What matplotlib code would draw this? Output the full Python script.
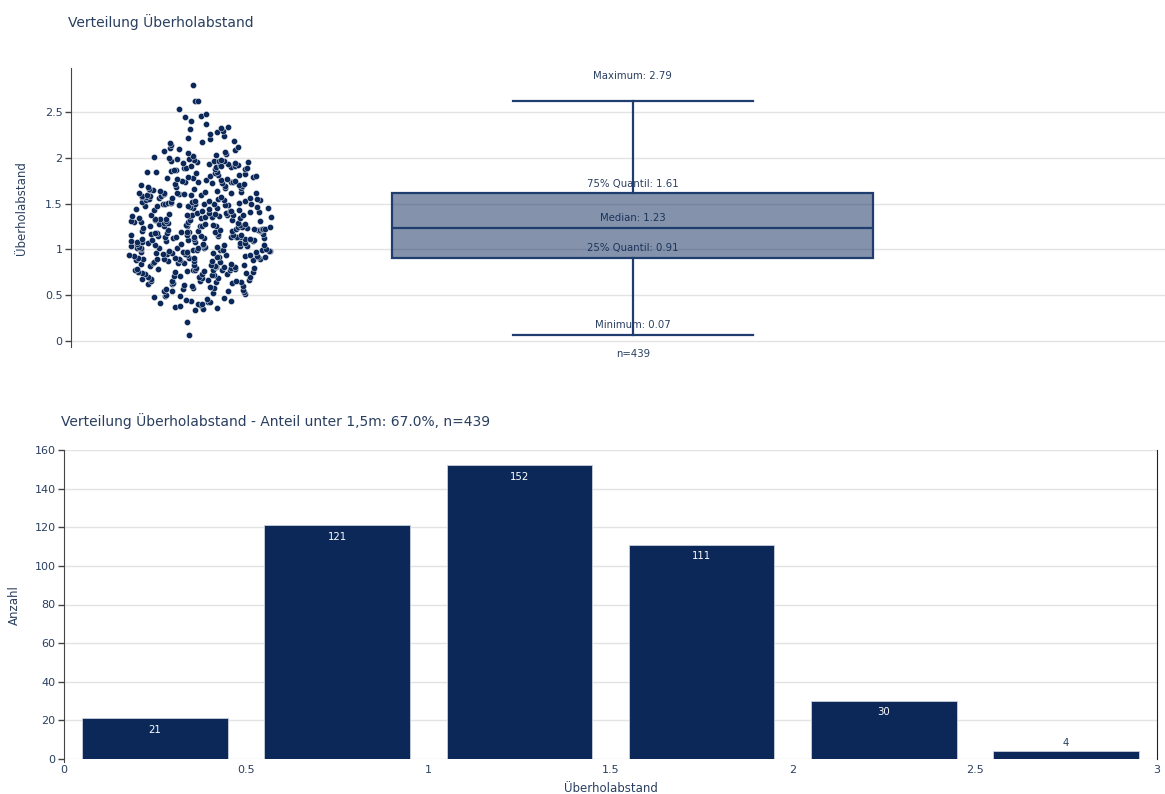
import numpy as np
import matplotlib
matplotlib.use("Agg")
import matplotlib.pyplot as plt

# Überholabstand (m), grouped by histogram bin
dist_000_050 = [0.07, 0.21, 0.34, 0.35, 0.36, 0.37, 0.38, 0.39, 0.40, 0.40, 0.41,
                0.42, 0.43, 0.44, 0.44, 0.45, 0.46, 0.47, 0.48, 0.49, 0.49]
dist_050_091 = [0.50, 0.51, 0.52, 0.53, 0.54, 0.55, 0.55, 0.56, 0.57, 0.57, 0.58, 0.58,
                0.59, 0.60, 0.60, 0.61, 0.62, 0.62, 0.63, 0.63, 0.64, 0.64, 0.65, 0.65,
                0.66, 0.66, 0.67, 0.67, 0.68, 0.68, 0.69, 0.69, 0.70, 0.70, 0.70, 0.71,
                0.71, 0.72, 0.72, 0.73, 0.73, 0.73, 0.74, 0.74, 0.75, 0.75, 0.75, 0.76,
                0.76, 0.77, 0.77, 0.77, 0.78, 0.78, 0.78, 0.79, 0.79, 0.79, 0.80, 0.80,
                0.80, 0.81, 0.81, 0.81, 0.82, 0.82, 0.82, 0.83, 0.83, 0.83, 0.84, 0.84,
                0.85, 0.85, 0.85, 0.86, 0.86, 0.87, 0.87, 0.87, 0.88, 0.88, 0.88, 0.89,
                0.89, 0.89, 0.90, 0.90]
dist_091_100 = [0.91, 0.91, 0.91, 0.91, 0.92, 0.92, 0.92, 0.92, 0.93, 0.93, 0.93, 0.94,
                0.94, 0.94, 0.94, 0.95, 0.95, 0.95, 0.96, 0.96, 0.96, 0.97, 0.97, 0.97,
                0.97, 0.98, 0.98, 0.98, 0.99, 0.99, 0.99, 0.99, 0.99]
dist_100_123 = [1.00, 1.00, 1.01, 1.01, 1.01, 1.02, 1.02, 1.02, 1.03, 1.03, 1.03, 1.04,
                1.04, 1.04, 1.05, 1.05, 1.05, 1.06, 1.06, 1.06, 1.07, 1.07, 1.07, 1.08,
                1.08, 1.08, 1.09, 1.09, 1.09, 1.10, 1.10, 1.10, 1.11, 1.11, 1.11, 1.12,
                1.12, 1.12, 1.13, 1.13, 1.13, 1.14, 1.14, 1.14, 1.15, 1.15, 1.15, 1.16,
                1.16, 1.16, 1.17, 1.17, 1.17, 1.18, 1.18, 1.18, 1.19, 1.19, 1.19, 1.20,
                1.20, 1.20, 1.20, 1.21, 1.21, 1.21, 1.21, 1.22, 1.22, 1.22, 1.22, 1.22,
                1.11, 1.13, 1.16, 1.19, 1.05]
dist_123_150 = [1.23, 1.23, 1.24, 1.24, 1.24, 1.25, 1.25, 1.25, 1.26, 1.26, 1.26, 1.27,
                1.27, 1.27, 1.28, 1.28, 1.28, 1.29, 1.29, 1.29, 1.30, 1.30, 1.30, 1.31,
                1.31, 1.31, 1.32, 1.32, 1.32, 1.33, 1.33, 1.33, 1.34, 1.34, 1.34, 1.35,
                1.35, 1.35, 1.36, 1.36, 1.36, 1.37, 1.37, 1.37, 1.38, 1.38, 1.38, 1.39,
                1.39, 1.40, 1.40, 1.40, 1.41, 1.41, 1.42, 1.42, 1.42, 1.43, 1.43, 1.44,
                1.44, 1.45, 1.45, 1.45, 1.46, 1.46, 1.47, 1.47, 1.47, 1.48, 1.48, 1.48,
                1.49, 1.49, 1.49]
dist_150_161 = [1.50, 1.50, 1.50, 1.51, 1.51, 1.51, 1.52, 1.52, 1.52, 1.53, 1.53, 1.53,
                1.54, 1.54, 1.54, 1.55, 1.55, 1.55, 1.56, 1.56, 1.56, 1.57, 1.57, 1.57,
                1.58, 1.58, 1.58, 1.59, 1.59, 1.59, 1.60, 1.60, 1.60, 1.61, 1.61]
dist_161_200 = [1.61, 1.62, 1.62, 1.63, 1.63, 1.64, 1.64, 1.65, 1.65, 1.66, 1.66, 1.67,
                1.67, 1.68, 1.68, 1.69, 1.69, 1.70, 1.70, 1.71, 1.71, 1.72, 1.72, 1.73,
                1.73, 1.74, 1.74, 1.75, 1.75, 1.76, 1.76, 1.77, 1.77, 1.78, 1.78, 1.79,
                1.79, 1.80, 1.80, 1.81, 1.81, 1.82, 1.83, 1.83, 1.84, 1.85, 1.85, 1.86,
                1.87, 1.87, 1.88, 1.88, 1.89, 1.89, 1.90, 1.90, 1.91, 1.91, 1.92, 1.92,
                1.93, 1.93, 1.94, 1.94, 1.95, 1.95, 1.96, 1.96, 1.97, 1.97, 1.98, 1.98,
                1.99, 1.99, 1.91, 1.89]
dist_200_250 = [2.00, 2.01, 2.02, 2.03, 2.04, 2.05, 2.06, 2.07, 2.09, 2.10, 2.11, 2.12,
                2.14, 2.16, 2.17, 2.18, 2.20, 2.22, 2.24, 2.26, 2.28, 2.29, 2.31, 2.32,
                2.34, 2.37, 2.40, 2.45, 2.46, 2.48]
dist_250_300 = [2.53, 2.62, 2.62, 2.79]

# Histogram
bin_edges = [0.0, 0.5, 1.0, 1.5, 2.0, 2.5, 3.0]
bin_counts = [21, 121, 152, 111, 30, 4]

# Box statistics as annotated
stat_names = ["Maximum", "75% Quantil", "Median", "25% Quantil", "Minimum"]
stat_values = [2.79, 1.61, 1.23, 0.91, 0.07]
n_total = 439
share_below_15 = 67.0

distances = np.array(dist_000_050 + dist_050_091 + dist_091_100 + dist_100_123 +
                     dist_123_150 + dist_150_161 + dist_161_200 + dist_200_250 +
                     dist_250_300)

NAVY = "#0b2858"
BOX_EDGE = "#1f3d6e"
TXT = "#2a3f5f"
GRID = "#e3e3e3"
plt.rcParams["font.family"] = ["DejaVu Sans"]

W, H = 1165, 794
fig = plt.figure(figsize=(W / 100, H / 100), dpi=100)


def frac_box(l, t, r, b):
    return [l / W, 1 - b / H, (r - l) / W, (b - t) / H]


# ---------------- top panel: strip + box ----------------
ax1 = fig.add_axes(frac_box(71, 68, 1165, 347))
ax1.set_xlim(-1.168, 1.106)
ax1.set_ylim(-0.066, 2.98)

stats = dict(zip(stat_names, stat_values))
q1, med, q3 = stats["25% Quantil"], stats["Median"], stats["75% Quantil"]
iqr = q3 - q1
whis_hi = distances[distances <= q3 + 1.5 * iqr].max()
whis_lo = distances[distances >= q1 - 1.5 * iqr].min()

# statistic labels sit underneath the translucent box
for name, val in zip(stat_names, stat_values):
    ax1.annotate(f"{name}: {val:.2f}", (0, val), xytext=(0, 3.5),
                 textcoords="offset points", ha="center", va="bottom",
                 fontsize=7.3, color=TXT, zorder=2)
ax1.annotate(f"n={n_total}", (0, stats["Minimum"]), xytext=(0, -10.5),
             textcoords="offset points", ha="center", va="top",
             fontsize=7.3, color=TXT, zorder=2)

ax1.bxp([dict(med=med, q1=q1, q3=q3, whislo=whis_lo, whishi=whis_hi, fliers=[])],
        positions=[0], widths=1.0, capwidths=0.5, showfliers=False,
        patch_artist=True, manage_ticks=False,
        boxprops=dict(facecolor=(0.043, 0.157, 0.345, 0.5), edgecolor=BOX_EDGE,
                      linewidth=1.6),
        medianprops=dict(color=BOX_EDGE, linewidth=1.6),
        whiskerprops=dict(color=BOX_EDGE, linewidth=1.6),
        capprops=dict(color=BOX_EDGE, linewidth=1.6), zorder=3)

# density-scaled jitter for the strip of individual points
dens = np.exp(-0.5 * ((distances[:, None] - distances[None, :]) / 0.22) ** 2).sum(axis=1)
dens = np.sqrt(dens / dens.max())
idx = np.arange(len(distances))
u = np.modf(np.abs(np.sin(idx * 12.9898 + 78.233) * 43758.5453))[0]
xs = -0.90 + (u - 0.5) * 2 * 0.152 * dens
ax1.scatter(xs, distances, s=20, color=NAVY, edgecolors="white", linewidths=0.3,
            zorder=4)

ax1.set_yticks([0, 0.5, 1, 1.5, 2, 2.5])
ax1.set_yticklabels(["0", "0.5", "1", "1.5", "2", "2.5"])
ax1.set_xticks([])
ax1.grid(axis="y", color=GRID, linewidth=1)
ax1.set_axisbelow(True)
for s in ["top", "right", "bottom"]:
    ax1.spines[s].set_visible(False)
ax1.spines["left"].set_color("#444444")
ax1.tick_params(axis="y", length=4, width=1, color="#444444", labelsize=8,
                labelcolor=TXT, pad=2)

# ---------------- bottom panel: histogram ----------------
ax2 = fig.add_axes(frac_box(64, 450, 1157, 759))
ax2.set_xlim(0, 3)
ax2.set_ylim(0, 160)
edges = np.array(bin_edges)
centers = (edges[:-1] + edges[1:]) / 2
width = (edges[1] - edges[0]) * 0.8
ax2.bar(centers, bin_counts, width=width, color=NAVY,
        edgecolor="#c9d0dc", linewidth=0.6, zorder=3)
for c, v in zip(centers, bin_counts):
    if v >= 15:
        ax2.annotate(str(v), (c, v), xytext=(0, -4.5), textcoords="offset points",
                     ha="center", va="top", fontsize=7.3, color="white", zorder=4)
    else:
        ax2.annotate(str(v), (c, v), xytext=(0, 2.5), textcoords="offset points",
                     ha="center", va="bottom", fontsize=7.3, color=TXT, zorder=4)

ax2.set_yticks(range(0, 161, 20))
ax2.set_xticks([0, 0.5, 1, 1.5, 2, 2.5, 3])
ax2.set_xticklabels(["0", "0.5", "1", "1.5", "2", "2.5", "3"])
ax2.grid(axis="y", color=GRID, linewidth=1)
ax2.set_axisbelow(True)
ax2.spines["top"].set_visible(False)
ax2.spines["bottom"].set_visible(False)
ax2.spines["left"].set_color("#444444")
ax2.spines["left"].set_bounds(-1.5, 160)
ax2.spines["right"].set_color("#222222")
ax2.tick_params(axis="y", length=4, width=1, color="#444444", labelsize=8,
                labelcolor=TXT, pad=2)
ax2.tick_params(axis="x", length=0, labelsize=8, labelcolor=TXT, pad=4)

# ---------------- titles and axis labels ----------------
fig.text(68 / W, 1 - 22 / H, "Verteilung Überholabstand", fontsize=10.0,
         color=TXT, ha="left", va="center")
fig.text(61 / W, 1 - 421 / H,
         f"Verteilung Überholabstand - Anteil unter 1,5m: {share_below_15:.1f}%, n={n_total}",
         fontsize=10.0, color=TXT, ha="left", va="center")
fig.text(22 / W, 1 - 208 / H, "Überholabstand", rotation=90, fontsize=8.5,
         color=TXT, ha="center", va="center")
fig.text(14 / W, 1 - 605 / H, "Anzahl", rotation=90, fontsize=8.5,
         color=TXT, ha="center", va="center")
fig.text(611 / W, 1 - 788 / H, "Überholabstand", fontsize=8.5,
         color=TXT, ha="center", va="center")

fig.savefig("out.png", dpi=100, facecolor="white")
